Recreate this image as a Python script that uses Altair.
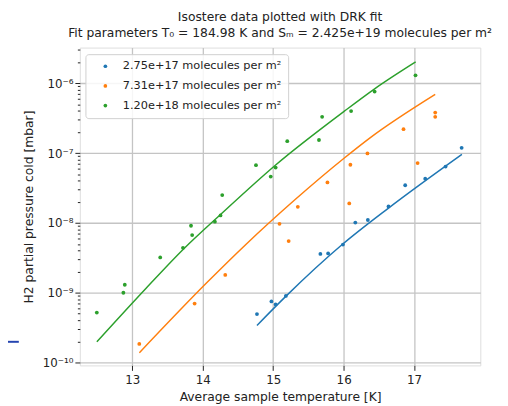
import math
import altair as alt
import pandas as pd

FONT = "DejaVu Sans"

series_names = [
    "2.75e+17 molecules per m²",
    "7.31e+17 molecules per m²",
    "1.20e+18 molecules per m²",
]
series_colors = ["#1f77b4", "#ff7f0e", "#2ca02c"]

# measured isostere points (temperature K, pressure mbar)
blue_T = [14.77, 14.975, 15.035, 15.18, 15.67, 15.78, 15.99, 16.166, 16.344, 16.637, 16.874, 17.158, 17.447, 17.675]
blue_P = [4.95e-10, 7.5e-10, 6.8e-10, 9.0e-10, 3.6e-9, 3.65e-9, 4.9e-9, 1.01e-8, 1.1e-8, 1.72e-8, 3.46e-8, 4.3e-8, 6.4e-8, 1.19e-7]

orange_T = [13.10, 13.885, 14.32, 15.09, 15.22, 15.35, 15.77, 16.08, 16.096, 16.338, 16.85, 17.05, 17.30, 17.30]
orange_P = [1.85e-10, 7.0e-10, 1.8e-9, 9.7e-9, 5.5e-9, 1.7e-8, 3.8e-8, 1.9e-8, 6.8e-8, 9.9e-8, 2.2e-7, 7.2e-8, 3.8e-7, 3.3e-7]

green_T = [12.497, 12.874, 12.894, 13.397, 13.72, 13.85, 13.834, 14.173, 14.253, 14.277, 14.756, 14.965, 15.035, 15.2, 15.65, 15.695, 16.106, 16.44, 17.02]
green_P = [5.2e-10, 1.0e-9, 1.3e-9, 3.2e-9, 4.4e-9, 6.7e-9, 9.1e-9, 1.04e-8, 1.28e-8, 2.5e-8, 6.7e-8, 4.6e-8, 6.2e-8, 1.48e-7, 1.54e-7, 3.3e-7, 4.0e-7, 7.6e-7, 1.3e-6]

# DRK fit curves
blue_fit_T = [14.77, 15.175, 15.98, 16.637, 17.679]
blue_fit_P = [3.40e-10, 8.79e-10, 4.90e-9, 1.63e-8, 9.59e-8]

orange_fit_T = [13.10, 14.06, 14.62, 15.30, 16.01, 16.37, 17.30]
orange_fit_P = [1.38e-10, 1.40e-9, 5.0e-9, 2.11e-8, 8.51e-8, 1.64e-7, 6.93e-7]

green_fit_T = [12.497, 13.2, 13.732, 14.253, 15.035, 16.01, 16.44, 17.022]
green_fit_P = [1.98e-10, 1.17e-9, 4.27e-9, 1.32e-8, 6.76e-8, 3.98e-7, 8.32e-7, 2.02e-6]

x_ticks = [13, 14, 15, 16, 17]
y_major = [1e-10, 1e-9, 1e-8, 1e-7, 1e-6]
y_major_labels = ["10⁻¹⁰", "10⁻⁹", "10⁻⁸", "10⁻⁷", "10⁻⁶"]
y_minor = [k * 10.0 ** e for e in range(-10, -5) for k in range(2, 10) if k * 10.0 ** e < 3.2e-6]

title_lines = [
    "Isostere data plotted with DRK fit",
    "Fit parameters T₀ = 184.98 K and Sₘ = 2.425e+19  molecules per m²",
]

rows = []
for name, Ts, Ps in zip(series_names, [blue_T, orange_T, green_T], [blue_P, orange_P, green_P]):
    for t, p in zip(Ts, Ps):
        rows.append({"series": name, "T": t, "P": p})
points = pd.DataFrame(rows)

frows = []
for name, Ts, Ps in zip(series_names, [blue_fit_T, orange_fit_T, green_fit_T], [blue_fit_P, orange_fit_P, green_fit_P]):
    for i, (t, p) in enumerate(zip(Ts, Ps)):
        frows.append({"series": name, "T": t, "P": p, "i": i})
fits = pd.DataFrame(frows)

x_scale = alt.Scale(domain=[12.256, 17.94], nice=False, zero=False)
y_scale = alt.Scale(type="log", domain=[9.1e-11, 3.24e-6], nice=False)
color_scale = alt.Scale(domain=series_names, range=series_colors)

label_expr = ""
for v, lab in zip(y_major, y_major_labels):
    e = int(round(math.log10(v)))
    label_expr += f"abs(log(datum.value)/LN10 - ({e})) < 0.001 ? '{lab}' : "
label_expr += "''"

is_major = "abs(log(datum.value)/LN10 - round(log(datum.value)/LN10)) < 0.001"

x_axis = alt.Axis(values=x_ticks, format="d", title="Average sample temperature [K]",
                  grid=True, gridColor="#c4c4c4", gridWidth=1.3, tickSize=5,
                  tickColor="#222", domain=False, labelFontSize=12, titleFontSize=12.5,
                  labelFont=FONT, titleFont=FONT, labelColor="#222", titleColor="#222",
                  titleFontWeight="normal", titlePadding=6, labelPadding=4)

y_axis = alt.Axis(values=y_major + y_minor, labelExpr=label_expr,
                  title="H2 partial pressure cold [mbar]",
                  grid=True, gridColor="#c4c4c4", gridWidth=1.3,
                  gridOpacity={"condition": {"test": is_major, "value": 1}, "value": 0},
                  tickSize={"condition": {"test": is_major, "value": 5}, "value": 2.5},
                  tickColor="#222",
                  domain=False, labelFontSize=12, titleFontSize=12.5, labelFont=FONT,
                  titleFont=FONT, labelColor="#222", titleColor="#222", titleFontWeight="normal",
                  titlePadding=7, labelPadding=2, labelOverlap=False)

pts = alt.Chart(points).mark_circle(size=15, opacity=1).encode(
    x=alt.X("T:Q", scale=x_scale, axis=x_axis),
    y=alt.Y("P:Q", scale=y_scale, axis=y_axis),
    color=alt.Color("series:N", scale=color_scale, legend=alt.Legend(
        title=None, orient="none", legendX=5.7, legendY=6.7, padding=6.5,
        symbolType="circle", symbolSize=14, symbolOffset=8, labelOffset=12,
        rowPadding=7, strokeColor="#d0d0d0", fillColor="rgba(255,255,255,0.85)",
        cornerRadius=3, labelFontSize=11.5, labelFont=FONT, labelColor="#222",
        labelLimit=0)),
)

lines = alt.Chart(fits).mark_line(strokeWidth=1.5, interpolate="monotone").encode(
    x=alt.X("T:Q", scale=x_scale),
    y=alt.Y("P:Q", scale=y_scale),
    color=alt.Color("series:N", scale=color_scale, legend=None),
    detail="series:N",
    order="i:Q",
)

artifact = alt.Chart(alt.Data(values=[{"a": 1}])).mark_rule(
    color="#2444b0", strokeWidth=2, orient="horizontal"
).encode(
    x=alt.value(-75), x2=alt.value(-62), y=alt.value(299), y2=alt.value(299)
)

chart = alt.layer(lines, pts, artifact).resolve_legend(color="independent").properties(
    width=407, height=323,
    autosize=alt.AutoSizeParams(type="none"),
    padding={"left": 73, "top": 37, "right": 20, "bottom": 38},
    title=alt.TitleParams(text=title_lines, fontSize=12.5, font=FONT, fontWeight="normal",
                          color="#222", anchor="middle", frame="group", baseline="alphabetic",
                          offset=-5, lineHeight=16),
).configure_view(stroke="#333", strokeWidth=1.3).configure(background="white")

chart.save("out.html", embed_options={"renderer": "svg", "actions": False})
